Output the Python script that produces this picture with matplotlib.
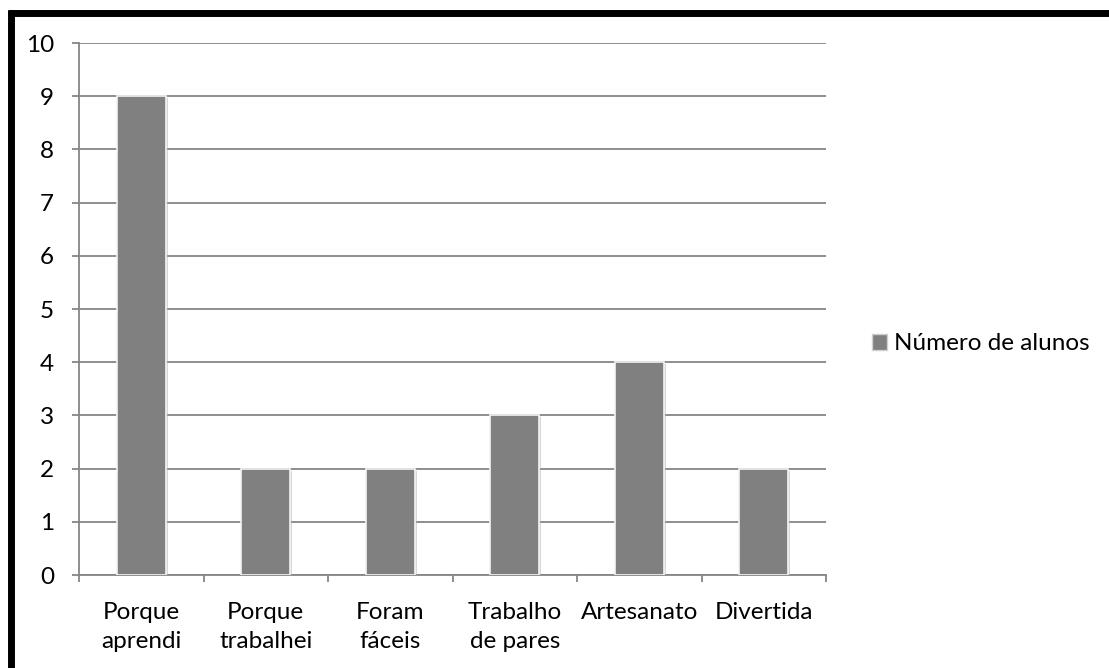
import matplotlib
matplotlib.use("Agg")
import matplotlib.pyplot as plt
from matplotlib.lines import Line2D
from matplotlib.patches import Rectangle
import matplotlib.patheffects as pe

categories = ["Porque\naprendi", "Porque\ntrabalhei", "Foram\nfáceis",
              "Trabalho\nde pares", "Artesanato", "Divertida"]
values = [9, 2, 2, 3, 4, 2]
series_name = "Número de alunos"
y_ticks = list(range(0, 11))

plt.rcParams["font.family"] = ["Lato", "DejaVu Sans"]

W, H = 1109, 668
fig = plt.figure(figsize=(W / 100, H / 100), dpi=100)
fig.patch.set_facecolor("white")

# plot area in pixel coordinates
x0, x1 = 79, 826
y0, y1 = 575, 43
ax = fig.add_axes([x0 / W, 1 - y0 / H, (x1 - x0) / W, (y0 - y1) / H])

fs = 17.5
bar_color = "#808080"
grid_color = "#868686"
xs = range(len(categories))
bars = ax.bar(xs, values, width=0.39, color=bar_color, edgecolor="#f4f4f4",
              linewidth=1.2, zorder=3)
for b in bars:
    b.set_path_effects([pe.SimplePatchShadow(offset=(1.5, -1.5), shadow_rgbFace="#b0b0b0", alpha=0.5),
                        pe.Normal()])

ax.set_xlim(-0.5, len(categories) - 0.5)
ax.set_ylim(0, 10)
ax.set_yticks(y_ticks)
ax.set_yticklabels([str(t) for t in y_ticks], fontsize=fs, color="black")
ax.yaxis.grid(True, color=grid_color, linewidth=1.3, zorder=0)
ax.set_axisbelow(True)

ax.set_xticks([i + 0.5 for i in range(-1, len(categories))])
ax.set_xticklabels([])
ax.tick_params(axis="x", length=5, width=1.3, color=grid_color, direction="out")
ax.tick_params(axis="y", length=5, width=1.3, color=grid_color, direction="out", pad=13)
for i, lab in enumerate(categories):
    ax.text(i, -0.5, lab, ha="center", va="top", fontsize=fs,
            linespacing=1.48, transform=ax.transData)

for s in ["top", "right"]:
    ax.spines[s].set_visible(False)
for s in ["left", "bottom"]:
    ax.spines[s].set_color(grid_color)
    ax.spines[s].set_linewidth(1.3)

# legend
handle = Rectangle((0, 0), 1, 1, facecolor=bar_color, edgecolor="#d0d0d0")
fig.legend([handle], [series_name], loc="center left",
           bbox_to_anchor=(872 / W, 1 - 344 / H), frameon=False,
           fontsize=fs, handlelength=0.6, handleheight=0.6,
           handletextpad=0.3, borderaxespad=0, borderpad=0)

# thick frame along the top and left edges
fig.add_artist(Line2D([8 / W, 1.0], [1 - 13 / H, 1 - 13 / H], color="black",
                      linewidth=5, transform=fig.transFigure, solid_capstyle="butt"))
fig.add_artist(Line2D([11 / W, 11 / W], [1 - 10 / H, 0.0], color="black",
                      linewidth=5, transform=fig.transFigure, solid_capstyle="butt"))

fig.savefig("out.png", dpi=100, facecolor="white")
